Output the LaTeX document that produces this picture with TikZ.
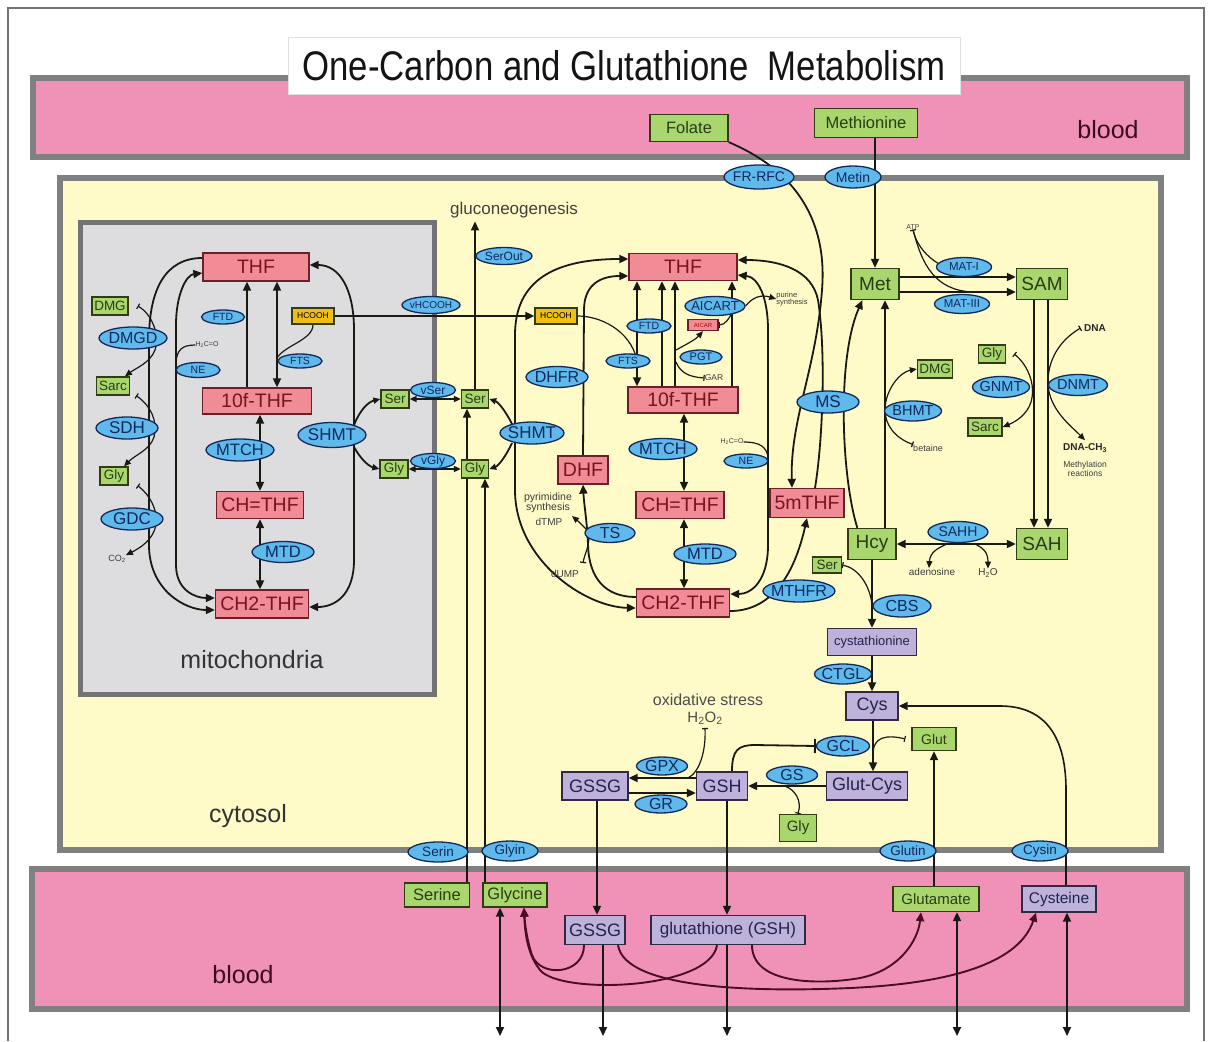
\documentclass[tikz,border=0pt]{standalone}
\usepackage{fontspec}
\setmainfont{Liberation Sans}
\usepackage{graphicx}
\usetikzlibrary{shapes.geometric,arrows.meta}
\pgfdeclarelayer{bg}\pgfdeclarelayer{edges}\pgfsetlayers{bg,edges,main}
\definecolor{bloodc}{RGB}{240,146,184}
\definecolor{cytoc}{RGB}{255,251,200}
\definecolor{mitoc}{RGB}{221,221,223}
\definecolor{bandgray}{RGB}{128,128,128}
\definecolor{pinkf}{RGB}{240,140,150}
\definecolor{pinkd}{RGB}{110,30,40}
\definecolor{pinkt}{RGB}{120,20,30}
\definecolor{greenf}{RGB}{170,214,110}
\definecolor{greend}{RGB}{50,60,20}
\definecolor{greent}{RGB}{40,60,20}
\definecolor{enzf}{RGB}{95,185,235}
\definecolor{enzd}{RGB}{20,40,90}
\definecolor{enzt}{RGB}{15,40,95}
\definecolor{purpf}{RGB}{190,178,218}
\definecolor{purpd}{RGB}{50,40,70}
\definecolor{purpt}{RGB}{35,35,80}
\definecolor{orangef}{RGB}{240,190,20}
\definecolor{linec}{RGB}{25,25,20}
\definecolor{maroonc}{RGB}{75,12,35}
\definecolor{smalltext}{RGB}{60,60,60}
\newcommand\fsz[1]{\fontsize{#1}{#1}\selectfont}
\tikzset{
 bx/.style={rectangle, inner sep=0pt, line width=1.3pt},
 pbox/.style={bx, draw=pinkd, fill=pinkf, text=pinkt, font=\fsz{19.5}, minimum height=28pt},
 gbox/.style={bx, draw=greend, fill=greenf, text=greent, font=\fsz{13.5}, minimum height=18pt},
 bgbox/.style={bx, draw=greend, fill=greenf, text=greent, font=\fsz{19}, minimum height=31pt, minimum width=48pt},
 ubox/.style={bx, draw=purpd, fill=purpf, text=purpt, font=\fsz{18}, minimum height=28pt},
 obox/.style={bx, draw=greend, fill=orangef, text=black, font=\fsz{8.5}, minimum height=16pt, minimum width=42pt},
 enzs/.style={ellipse, draw=enzd, fill=enzf, line width=1.3pt, inner sep=0pt},
 enzlab/.style={text=enzt, inner sep=0pt},
 sm/.style={text=smalltext, inner sep=0pt},
 arr/.style={-{Triangle[length=9pt,width=8pt]}},
 darr/.style={{Triangle[length=9pt,width=8pt]}-{Triangle[length=9pt,width=8pt]}},
 sarr/.style={-{Triangle[length=7pt,width=6pt]}},
 sdarr/.style={{Triangle[length=7pt,width=6pt]}-{Triangle[length=7pt,width=6pt]}},
 tarr/.style={{Bar[width=6pt]}-{Triangle[length=7pt,width=6pt]}},
 teeend/.style={-{Bar[width=6pt]}},
 teestart/.style={{Bar[width=6pt]}-},
 conn/.style={draw=linec, line width=1.8pt},
 tline/.style={line width=1.2pt},
 bl/.style={draw=maroonc, line width=1.9pt},
 lab/.style={font=\fsz{25}, text=black!80},
}
\newcommand\Enz[6]{\node[enzs, minimum width=#4pt, minimum height=#5pt, label={[enzlab, font=\fsz{#6}]center:#2}] (#1) at (#3) {};}
\begin{document}
\begin{tikzpicture}[x=1pt,y=-1pt]
\useasboundingbox (0,0) rectangle (1212,1041);
% ---------- compartments ----------
\begin{pgfonlayer}{bg}
\fill[white] (0,0) rectangle (1212,1041);
\draw[black!55, line width=1.5pt] (8,1041) -- (8,8) -- (1204,8) -- (1204,1041);
\draw[bandgray, line width=6pt, fill=bloodc] (33,78) rectangle (1187,157);
\draw[bandgray, line width=6pt, fill=cytoc] (60,178) rectangle (1161,850);
\draw[black!55, line width=5pt, fill=mitoc] (80,222) rectangle (434,694);
\draw[bandgray, line width=6pt, fill=bloodc] (32,869) rectangle (1187,1009);
\node[fill=white, draw=black!12, line width=0.8pt, minimum width=672pt, minimum height=57pt, inner sep=0pt, text=black!92] (title) at (624,66) {\resizebox{643pt}{30pt}{One-Carbon and Glutathione\ \ Metabolism}};
\end{pgfonlayer}
\node[lab, text=maroonc!80!black] (lblood1) at (1108,130) {blood};
\node[lab, text=maroonc!80!black] (lblood2) at (243,975) {blood};
\node[lab] (lcyto) at (248,816) {cytosol};
\node[lab] (lmito) at (252,660) {mitochondria};
% ---------- mitochondria ----------
\node[pbox, minimum width=106pt] (THFm) at (256,267) {THF};
\node[pbox, minimum width=109pt, minimum height=26pt] (TFm) at (257,401) {10f-THF};
\node[pbox, minimum width=87pt, minimum height=27pt] (CHm) at (260,505) {CH=THF};
\node[pbox, minimum width=93pt] (CH2m) at (262,604) {CH2-THF};
\Enz{FTDm}{FTD}{223,317}{43}{14}{10.5}
\node[obox] (HCm) at (313,316) {HCOOH};
\Enz{FTSm}{FTS}{300,361}{44}{14}{10.5}
\Enz{NEm}{NE}{198,370}{44}{15}{10.5}
\node[sm, font=\fsz{7}] (H2COm) at (207,345) {H\textsubscript{2}C=O};
\Enz{MTCHm}{MTCH}{240,450}{68}{22}{16.5}
\Enz{MTDm}{MTD}{283,552}{62}{21}{16.5}
\Enz{SHMTm}{SHMT}{332,435}{68}{25}{17}
\node[gbox, minimum width=28pt] (Serm) at (395,399) {Ser};
\node[gbox, minimum width=28pt] (Glym) at (394,469) {Gly};
\node[gbox, minimum width=36pt] (DMGm) at (110,306) {DMG};
\Enz{DMGD}{DMGD}{133,338}{68}{22}{16}
\node[gbox, minimum width=33pt] (Sarcm) at (113,386) {Sarc};
\Enz{SDH}{SDH}{127,428}{62}{22}{17}
\node[gbox, minimum width=28pt] (Glym2) at (114,476) {Gly};
\Enz{GDC}{GDC}{132,519}{62}{22}{17}
\node[sm, font=\fsz{9}] (CO2) at (117,559) {CO\textsubscript{2}};
\Enz{vSer}{vSer}{433,390}{45}{15}{12}
\Enz{vGly}{vGly}{433,461}{45}{15}{12}
\Enz{vHCOOH}{vHCOOH}{431,305}{58}{17}{10}
% ---------- cytosol folate ----------
\node[gbox, minimum width=27pt] (Serc) at (475,399) {Ser};
\node[gbox, minimum width=27pt] (Glyc) at (475,469) {Gly};
\node[obox] (HCc) at (556,316) {HCOOH};
\Enz{SerOut}{SerOut}{504,256}{56}{17}{12}
\node[font=\fsz{17}, text=black!75] (gluco) at (514,210) {gluconeogenesis};
\Enz{SHMTc}{SHMT}{532,433}{64}{22}{17}
\node[pbox, minimum width=108pt, minimum height=27pt] (THFc) at (683,267) {THF};
\node[pbox, minimum width=110pt, minimum height=26pt] (TFc) at (683,400) {10f-THF};
\node[pbox, minimum width=88pt, minimum height=27pt] (CHc) at (680,505) {CH=THF};
\node[pbox, minimum width=93pt] (CH2c) at (683,603) {CH2-THF};
\node[pbox, minimum width=50pt, minimum height=28pt] (DHF) at (583,470) {DHF};
\node[pbox, minimum width=74pt, minimum height=29pt] (mTHF) at (807,503) {5mTHF};
\Enz{FTDc}{FTD}{649,326}{44}{14}{10.5}
\Enz{FTSc}{FTS}{628,361}{44}{14}{10.5}
\Enz{DHFR}{DHFR}{557,377}{62}{21}{16}
\Enz{AICART}{AICART}{715,306}{60}{19}{13}
\node[bx, draw=pinkd, fill=pinkf, text=red!70!black, font=\fsz{6}, minimum width=30pt, minimum height=11pt] (AICAR) at (703,325) {AICAR};
\Enz{PGT}{PGT}{701,357}{42}{14}{11}
\node[sm, font=\fsz{8.5}] (GAR) at (714,378) {GAR};
\Enz{MTCHc}{MTCH}{663,449}{68}{21}{16.5}
\Enz{MTDc}{MTD}{705,554}{62}{20}{16.5}
\Enz{NEc}{NE}{746,461}{44}{14}{10.5}
\node[sm, font=\fsz{7}] (H2COc) at (732,442) {H\textsubscript{2}C=O};
\Enz{TS}{TS}{610,533}{50}{19}{16}
\node[sm, font=\fsz{10.5}, align=center] (pyr) at (548,503) {pyrimidine\\synthesis};
\node[sm, font=\fsz{10}] (dTMP) at (549,522) {dTMP};
\node[sm, font=\fsz{10}] (dUMP) at (565,574) {dUMP};
\node[sm, font=\fsz{7.5}, align=left] (purine) at (792,299) {purine\\synthesis};
\Enz{MTHFR}{MTHFR}{799,591}{72}{22}{16}
\Enz{MS}{MS}{828,402}{62}{22}{17}
% ---------- top blood ----------
\node[gbox, font=\fsz{16.5}, minimum width=78pt, minimum height=27pt] (Folate) at (689,128) {Folate};
\node[gbox, font=\fsz{16.5}, minimum width=103pt, minimum height=29pt] (Methionine) at (866,123) {Methionine};
\Enz{FRRFC}{FR-RFC}{759,177}{70}{24}{14}
\Enz{Metin}{Metin}{853,177}{56}{22}{14}
% ---------- methionine cycle ----------
\node[bgbox] (Met) at (875,284) {Met};
\node[bgbox, minimum width=51pt] (SAM) at (1042,284) {SAM};
\node[bgbox] (Hcy) at (872,544) {Hcy};
\node[bgbox, minimum width=51pt] (SAH) at (1042,544) {SAH};
\Enz{MATI}{MAT-I}{964,267}{55}{19}{11.5}
\Enz{MATIII}{MAT-III}{962,304}{55}{19}{11.5}
\node[sm, font=\fsz{7}] (ATP) at (913,227) {ATP};
\node[gbox, minimum width=27pt] (Glyg) at (992,354) {Gly};
\Enz{GNMT}{GNMT}{1001,387}{57}{21}{14.5}
\node[gbox, minimum width=34pt] (Sarcg) at (985,427) {Sarc};
\Enz{DNMT}{DNMT}{1078,385}{59}{21}{14.5}
\node[font=\fsz{10}\bfseries, text=black!85] (DNA) at (1095,328) {DNA};
\node[font=\fsz{10}\bfseries, text=black!85] (DNACH) at (1085,448) {DNA-CH\textsubscript{3}};
\node[sm, font=\fsz{8.5}, align=center] (methr) at (1085,469) {Methylation\\reactions};
\Enz{BHMT}{BHMT}{913,411}{57}{20}{14.5}
\node[gbox, minimum width=35pt] (DMGb) at (935,369) {DMG};
\node[sm, font=\fsz{9}] (betaine) at (928,448) {betaine};
\Enz{SAHH}{SAHH}{958,532}{60}{21}{14}
\node[sm, font=\fsz{10}] (adeno) at (932,572) {adenosine};
\node[sm, font=\fsz{10}] (H2O) at (988,573) {H\textsubscript{2}O};
% ---------- transsulfuration / glutathione ----------
\node[gbox, minimum width=29pt, minimum height=16pt] (Serh) at (827,565) {Ser};
\Enz{CBS}{CBS}{902,606}{58}{22}{16}
\node[ubox, font=\fsz{13}, minimum width=89pt, minimum height=27pt] (cysta) at (872,642) {cystathionine};
\Enz{CTGL}{CTGL}{843,674}{57}{20}{16}
\node[ubox, minimum width=52pt] (Cys) at (872,706) {Cys};
\Enz{GCL}{GCL}{843,746}{53}{20}{16}
\node[gbox, font=\fsz{14}, minimum width=44pt, minimum height=23pt] (Glut) at (934,739) {Glut};
\node[ubox, minimum width=81pt] (GlutCys) at (867,786) {Glut-Cys};
\Enz{GS}{GS}{792,775}{51}{18}{16}
\node[gbox, font=\fsz{15}, minimum width=37pt, minimum height=27pt] (Glygs) at (798,828) {Gly};
\node[ubox, minimum width=51pt] (GSH) at (722,786) {GSH};
\node[ubox, minimum width=66pt] (GSSG) at (595,786) {GSSG};
\Enz{GPX}{GPX}{662,766}{51}{18}{16}
\Enz{GR}{GR}{661,804}{52}{18}{16}
\node[font=\fsz{16}, text=black!70] (oxs) at (708,700) {oxidative stress};
\node[font=\fsz{15}, text=black!70] (H2O2) at (705,718) {H\textsubscript{2}O\textsubscript{2}};
% ---------- transporters ----------
\Enz{Serin}{Serin}{438,852}{60}{20}{13.5}
\Enz{Glyin}{Glyin}{510,851}{56}{20}{13.5}
\Enz{Glutin}{Glutin}{908,851}{56}{20}{13.5}
\Enz{Cysin}{Cysin}{1040,851}{56}{20}{13.5}
% ---------- bottom blood ----------
\node[gbox, font=\fsz{16.5}, minimum width=65pt, minimum height=24pt] (Serine) at (437,895) {Serine};
\node[gbox, font=\fsz{16.5}, minimum width=64pt, minimum height=24pt] (Glycine) at (515,895) {Glycine};
\node[ubox, minimum width=60pt, minimum height=29pt] (GSSGb) at (595,930) {GSSG};
\node[ubox, font=\fsz{17}, minimum width=154pt, minimum height=29pt] (GSHb) at (728,930) {glutathione (GSH)};
\node[gbox, font=\fsz{15}, minimum width=86pt, minimum height=25pt] (Glutamate) at (936,899) {Glutamate};
\node[ubox, font=\fsz{15.5}, minimum width=74pt, minimum height=26pt] (Cysteine) at (1059,899) {Cysteine};
\coordinate (e1) at (500,1036);
\coordinate (e2) at (603,1036);
\coordinate (e3) at (727,1036);
\coordinate (e4) at (957,1036);
\coordinate (e5) at (1067,1036);
% ================= connectors =================
\begin{pgfonlayer}{edges}
\begin{scope}[conn]
% mitochondria
\draw[darr] (TFm.north -| 277,0) -- (THFm.south -| 277,0);
\draw[arr] (TFm.north -| 247,0) -- (THFm.south -| 247,0);
\draw[darr] (TFm.south -| 260,0) -- (CHm.north -| 260,0);
\draw[darr] (CHm.south -| 260,0) -- (CH2m.north -| 260,0);
\draw[tline] (HCm.south) .. controls (313,340) and (285,345) .. (277,358);
\draw[arr] (THFm.west |- 0,258) .. controls (165,258) and (149,290) .. (149,340) -- (149,545) .. controls (149,590) and (185,610) .. (CH2m.west |- 0,610);
\draw[darr] (THFm.west |- 0,273) .. controls (186,275) and (176,295) .. (176,325) -- (176,565) .. controls (176,590) and (195,598) .. (CH2m.west |- 0,598);
\draw[tline] (H2COm.west) .. controls (182,345) and (177,350) .. (176,362);
\draw[darr] (THFm.east |- 0,265) .. controls (340,265) and (354,290) .. (354,330) -- (354,560) .. controls (354,595) and (335,607) .. (CH2m.east |- 0,607);
\draw[sarr] (354,425) .. controls (360,410) and (368,402) .. (Serm.west);
\draw[sarr] (354,447) .. controls (360,458) and (368,466) .. (Glym.west);
\draw[sdarr] (Serm.east) -- (Serc.west);
\draw[sdarr] (Glym.east) -- (Glyc.west);
\draw[arr] (HCm.east) -- (HCc.west);
\draw[tarr, tline] ([xshift=9pt]DMGm.east) .. controls (152,314) and (160,335) .. (155,350) .. controls (150,363) and (136,368) .. (Sarcm.north -| 125,0);
\draw[tarr, tline] ([xshift=6pt]Sarcm.south east) .. controls (150,405) and (158,420) .. (154,437) .. controls (150,450) and (135,455) .. (Glym2.north -| 124,0);
\draw[tarr, tline] ([xshift=9pt]Glym2.south east) .. controls (150,495) and (158,510) .. (156,525) .. controls (153,540) and (140,548) .. (CO2.north east);
% cytosol folate
\draw[arr] (Serc.north) -- (Serc.north |- gluco.south);
\draw[arr, line width=1.4pt] (Serine.north -| 467,0) -- (Serc.south -| 467,0);
\draw[arr, line width=1.4pt] (Glycine.north -| 485,0) -- (Glyc.south -| 485,0);
\draw[darr] (THFc.west |- 0,259) .. controls (555,259) and (515,280) .. (515,335) -- (515,490) .. controls (515,560) and (585,607) .. (CH2c.west |- 0,608);
\draw[sarr] (512,424) .. controls (505,410) and (498,402) .. (Serc.east);
\draw[sarr] (512,443) .. controls (505,458) and (498,466) .. (Glyc.east);
\draw[arr] (DHF.north) -- (584,310) .. controls (584,285) and (600,276) .. (THFc.west |- 0,276);
\draw[arr] (CH2c.west |- 0,597) .. controls (605,597) and (589,578) .. (588,545) .. controls (587,520) and (584,505) .. (DHF.south);
\draw[sarr, tline] (589,532) .. controls (583,526) and (578,521) .. (572,516);
\draw[teeend, tline] (589,538) .. controls (588,550) and (584,556) .. (583,563);
\draw[tline] (HCc.east) .. controls (600,316) and (630,330) .. (637,360);
\draw[darr] (TFc.north -| 637,0) -- (THFc.south -| 637,0);
\draw[arr] (TFc.north -| 662,0) -- (THFc.south -| 662,0);
\draw[arr] (TFc.north -| 675,0) -- (THFc.south -| 675,0);
\draw[arr] (TFc.north -| 732,0) -- (THFc.south -| 732,0);
\draw[sarr, tline] (676,350) .. controls (685,345) and (695,340) .. (AICAR.south);
\draw[teeend, tline] (676,362) .. controls (680,372) and (688,377) .. (GAR.west);
\draw[teestart, tline] (AICAR.east) .. controls (725,325) and (730,318) .. (732,312);
\draw[sarr, tline] (AICART.east) .. controls (752,298) and (760,294) .. (purine.west);
\draw[darr] (TFc.south -| 684,0) -- (CHc.north -| 684,0);
\draw[darr] (CHc.south -| 684,0) -- (CH2c.north -| 684,0);
\draw[darr] (THFc.east |- 0,275) .. controls (758,277) and (768,297) .. (768,330) -- (768,545) .. controls (768,580) and (752,594) .. (CH2c.east |- 0,594);
\draw[tline] (H2COc.east) .. controls (760,442) and (767,447) .. (768,458);
\draw[arr] (mTHF.north -| 815,0) .. controls (823,440) and (826,350) .. (818,300) .. controls (812,270) and (780,260) .. (THFc.east |- 0,260);
\draw[arr] (Folate.south east) .. controls (790,168) and (828,215) .. (822,290) .. controls (816,370) and (790,420) .. (mTHF.north -| 792,0);
\draw[arr] (CH2c.east |- 0,611) .. controls (765,611) and (792,585) .. (mTHF.south);
\draw[arr, line width=1.5pt] (Methionine.south -| 875,0) -- (Met.north);
% methionine cycle
\draw[arr] (Met.east |- 0,277) -- (SAM.west |- 0,277);
\draw[arr] (Met.east |- 0,292) -- (SAM.west |- 0,292);
\draw[teestart, tline] (ATP.south) .. controls (918,252) and (940,274) .. (985,277);
\draw[tline] (ATP.south) .. controls (922,265) and (935,290) .. (972,292);
\draw[arr] (SAM.south -| 1034,0) -- (SAH.north -| 1034,0);
\draw[arr] (SAM.south -| 1048,0) -- (SAH.north -| 1048,0);
\draw[tarr, tline] ([xshift=8pt]Glyg.east) .. controls (1028,365) and (1036,385) .. (1031,402) .. controls (1027,415) and (1015,422) .. (Sarcg.east);
\draw[tarr, tline] (DNA.west) .. controls (1060,340) and (1047,360) .. (1048,385) .. controls (1050,410) and (1070,425) .. (DNACH.north);
\draw[tarr, tline] (betaine.north west) .. controls (895,438) and (885,425) .. (885,410) .. controls (885,390) and (900,372) .. (DMGb.west);
\draw[arr] (Hcy.north -| 885,0) -- (Met.south -| 885,0);
\draw[arr] ([xshift=10pt]Hcy.north west) .. controls (842,480) and (836,360) .. ([xshift=12pt]Met.south west);
\draw[darr] (Hcy.east) -- (SAH.west);
\draw[sarr, tline] (947,544) .. controls (938,548) and (930,552) .. (adeno.north -| 929,0);
\draw[sarr, tline] (975,544) .. controls (983,548) and (988,552) .. (H2O.north);
% transsulfuration
\draw[arr] (Hcy.south) -- (cysta.north);
\draw[teestart, tline] (Serh.east) .. controls (858,568) and (870,585) .. (872,605);
\draw[arr] (cysta.south) -- (Cys.north);
\draw[arr] (Cys.south -| 873,0) -- (GlutCys.north -| 873,0);
\draw[teestart, tline] ([xshift=-6pt]Glut.west) .. controls (885,734) and (874,738) .. (873,752);
\draw[arr] (GlutCys.west) -- (GSH.east);
\draw[teestart, tline] (Glygs.north) .. controls (802,800) and (795,790) .. (785,786);
\draw[arr] (GSH.west |- 0,778) -- (GSSG.east |- 0,778);
\draw[arr] (GSSG.east |- 0,793) -- (GSH.west |- 0,793);
\draw[teestart, tline] (H2O2.south) .. controls (706,750) and (700,772) .. (688,778);
\draw[-{Bar[width=14pt]}] (GSH.north -| 732,0) .. controls (732,750) and (738,745) .. (755,745) -- (GCL.west);
\draw[arr, line width=1.6pt] (Cysteine.north -| 1066,0) -- (1066,790) .. controls (1066,730) and (1040,706) .. (1000,706) -- (Cys.east);
\draw[arr, line width=1.6pt] (Glutamate.north -| 934,0) -- (Glut.south);
\draw[arr] (GSSG.south -| 597,0) -- (GSSGb.north -| 597,0);
\draw[arr] (GSH.south -| 727,0) -- (GSHb.north -| 727,0);
% bottom blood
\draw[darr] (Glycine.south -| 500,0) -- (e1);
\draw[arr] (GSSGb.south -| 603,0) -- (e2);
\draw[arr] (GSHb.south -| 727,0) -- (e3);
\draw[darr] (Glutamate.south -| 957,0) -- (e4);
\draw[darr] (Cysteine.south -| 1067,0) -- (e5);
\draw[bl, arr] (GSHb.south -| 717,0) .. controls (710,990) and (560,995) .. (540,970) .. controls (528,955) and (525,935) .. (Glycine.south -| 524,0);
\draw[bl, arr] (GSSGb.south -| 584,0) .. controls (584,975) and (540,978) .. (532,955) .. controls (527,940) and (525,925) .. (Glycine.south -| 524,0);
\draw[bl, arr] (GSSGb.south -| 618,0) .. controls (625,990) and (760,992) .. (850,988) .. controls (960,983) and (1020,960) .. (Cysteine.south -| 1036,0);
\draw[bl, arr] (GSHb.south -| 752,0) .. controls (752,985) and (820,985) .. (860,978) .. controls (900,970) and (918,940) .. (Glutamate.south -| 921,0);
\end{scope}
\end{pgfonlayer}
\end{tikzpicture}
\end{document}
